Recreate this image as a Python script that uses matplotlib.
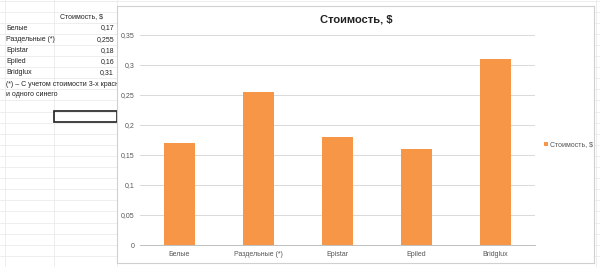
import matplotlib.pyplot as plt
from matplotlib.patches import Rectangle

plt.rcParams['font.family'] = ['Liberation Sans', 'DejaVu Sans']

categories = ['Белые', 'Раздельные (*)', 'Epistar', 'Epiled', 'Bridglux']
values = [0.17, 0.255, 0.18, 0.16, 0.31]
value_labels = ['0,17', '0,255', '0,18', '0,16', '0,31']
series_name = 'Стоимость, $'
yticks = [0, 0.05, 0.1, 0.15, 0.2, 0.25, 0.3, 0.35]
ytick_labels = ['0', '0,05', '0,1', '0,15', '0,2', '0,25', '0,3', '0,35']

W, H = 600, 267
fig = plt.figure(figsize=(6, 2.67), dpi=100)

# spreadsheet background, pixel coords
bg = fig.add_axes([0, 0, 1, 1])
bg.set_xlim(0, W)
bg.set_ylim(H, 0)
bg.axis('off')
grid_c = '#ebebeb'
for k in range(0, 25):
    y = 0.5 + 11.1 * k
    bg.plot([0, W], [y, y], color=grid_c, lw=0.6, zorder=0)
for x in [5, 54, 117, 596]:
    bg.plot([x, x], [0, H], color=grid_c, lw=0.6, zorder=0)

txt_c = '#222222'
bg.text(60, 17, series_name, fontsize=5, color=txt_c, va='center')
for i, (c, v) in enumerate(zip(categories, value_labels)):
    y = 28 + 11.1 * i
    bg.text(6, y, c, fontsize=5, color=txt_c, va='center')
    bg.text(114, y, v, fontsize=5, color=txt_c, va='center', ha='right')
bg.text(6, 84, '(*) – С учетом стоимости 3-х красных', fontsize=5, color=txt_c, va='center')
bg.text(6, 95, 'и одного синего', fontsize=5, color=txt_c, va='center')
bg.add_patch(Rectangle((54, 111), 63, 11.1, fill=False, ec='#202020', lw=1.2, zorder=2))

# chart frame
frame = fig.add_axes([117 / W, 1 - 263 / H, (594 - 117) / W, (263 - 6) / H])
frame.set_xticks([])
frame.set_yticks([])
frame.set_facecolor('white')
for s in frame.spines.values():
    s.set_color('#d0d0d0')
    s.set_linewidth(0.8)
fig.text(356 / W, 1 - 20 / H, series_name, fontsize=8, fontweight='bold',
         ha='center', va='center', color='#222222')

# plot area
ax = fig.add_axes([140 / W, 1 - 245 / H, (535 - 140) / W, (245 - 35) / H])
ax.set_facecolor('none')
x = range(len(categories))
bars = ax.bar(x, values, width=0.4, color='#f79646', zorder=3, label=series_name)
ax.set_xlim(-0.5, len(categories) - 0.5)
ax.set_ylim(0, 0.35)
ax.set_yticks(yticks)
ax.set_yticklabels(ytick_labels)
ax.set_xticks(list(x))
ax.set_xticklabels(categories)
ax.tick_params(axis='both', labelsize=5, colors='#555555', length=0, pad=4)
ax.yaxis.grid(True, color='#d9d9d9', lw=0.7, zorder=0)
for s in ['top', 'right', 'left']:
    ax.spines[s].set_visible(False)
ax.spines['bottom'].set_color('#bfbfbf')
ax.spines['bottom'].set_linewidth(0.7)

leg = fig.legend(handles=[bars], labels=[series_name], loc='center left',
                 bbox_to_anchor=(541 / W, 1 - 145 / H), frameon=False,
                 fontsize=5, handlelength=0.5, handleheight=0.5,
                 handletextpad=0.3, borderpad=0)
for t in leg.get_texts():
    t.set_color('#555555')

fig.savefig('out.png', dpi=100)
